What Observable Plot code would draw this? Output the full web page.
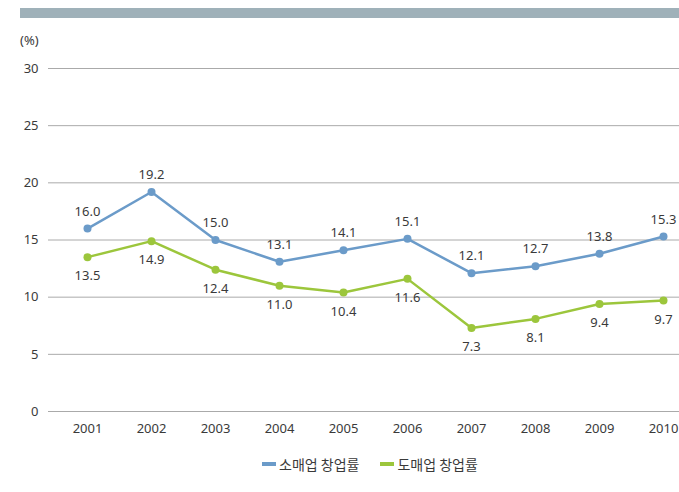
<!DOCTYPE html>
<html>
<head>
<meta charset="utf-8">
<script src="https://cdn.jsdelivr.net/npm/d3@7"></script>
<script src="https://cdn.jsdelivr.net/npm/@observablehq/plot@0.6"></script>
<style>
  html, body { margin: 0; padding: 0; background: #fff; overflow: hidden; }
  #wrap { position: relative; width: 679px; height: 492px; font-family: "Noto Sans", sans-serif; color: #3a3a3a; }
  #bar { position: absolute; left: 20px; top: 8px; width: 659px; height: 10px; background: #9fb1b9; }
  #unit { position: absolute; left: 20px; top: 31px; font-size: 13px; }
  #chart { position: absolute; left: 0; top: 0; }
  #chart svg text { font-size: 13px !important; }
  #legend { position: absolute; left: 262px; top: 454px; font-family: "Noto Sans CJK KR", sans-serif; font-size: 14px; display: flex; align-items: center; }
  .sw { display: inline-block; width: 14px; height: 4px; margin-right: 3px; }
  .item { display: flex; align-items: center; margin-right: 21px; }
</style>
</head>
<body>
<div id="wrap">
  <div id="bar"></div>
  <div id="unit">(%)</div>
  <div id="chart"></div>
  <div id="legend"></div>
</div>
<script>
const years = ["2001","2002","2003","2004","2005","2006","2007","2008","2009","2010"];
const retail = [16.0, 19.2, 15.0, 13.1, 14.1, 15.1, 12.1, 12.7, 13.8, 15.3];
const wholesale = [13.5, 14.9, 12.4, 11.0, 10.4, 11.6, 7.3, 8.1, 9.4, 9.7];
const seriesNames = ["소매업 창업률", "도매업 창업률"];
const seriesColors = ["#6b9bc9", "#9cc63c"];
const yTicks = [0, 5, 10, 15, 20, 25, 30];

const data = [];
years.forEach((y, i) => {
  data.push({year: y, value: retail[i], series: seriesNames[0]});
  data.push({year: y, value: wholesale[i], series: seriesNames[1]});
});
const rData = data.filter(d => d.series === seriesNames[0]);
const wData = data.filter(d => d.series === seriesNames[1]);

const chart = Plot.plot({
  width: 679,
  height: 492,
  marginTop: 68,
  marginBottom: 81,
  marginLeft: 48,
  marginRight: 0,
  style: {fontFamily: "'Noto Sans', sans-serif", fontSize: "13px", color: "#3a3a3a", background: "transparent", overflow: "visible"},
  x: {type: "point", domain: years, range: [84, 666], padding: 0, label: null, tickSize: 0, tickPadding: 12},
  y: {domain: [0, 30], ticks: yTicks, label: null, tickSize: 0, tickPadding: 10, tickFormat: d => d},
  color: {domain: seriesNames, range: seriesColors},
  marks: [
    Plot.ruleY(yTicks, {stroke: "#aaaaaa", strokeWidth: 1}),
    Plot.line(data, {x: "year", y: "value", z: "series", stroke: "series", strokeWidth: 2.5}),
    Plot.dot(data, {x: "year", y: "value", fill: "series", r: 4}),
    Plot.text(rData, {x: "year", y: "value", text: d => d.value.toFixed(1), dy: -17, fill: "#3a3a3a", fontSize: 13}),
    Plot.text(wData, {x: "year", y: "value", text: d => d.value.toFixed(1), dy: 19, fill: "#3a3a3a", fontSize: 13})
  ]
});
document.getElementById("chart").appendChild(chart);

const legend = document.getElementById("legend");
seriesNames.forEach((n, i) => {
  const it = document.createElement("div");
  it.className = "item";
  const sw = document.createElement("span");
  sw.className = "sw";
  sw.style.background = seriesColors[i];
  const t = document.createElement("span");
  t.textContent = n;
  it.appendChild(sw); it.appendChild(t);
  legend.appendChild(it);
});
</script>
</body>
</html>
